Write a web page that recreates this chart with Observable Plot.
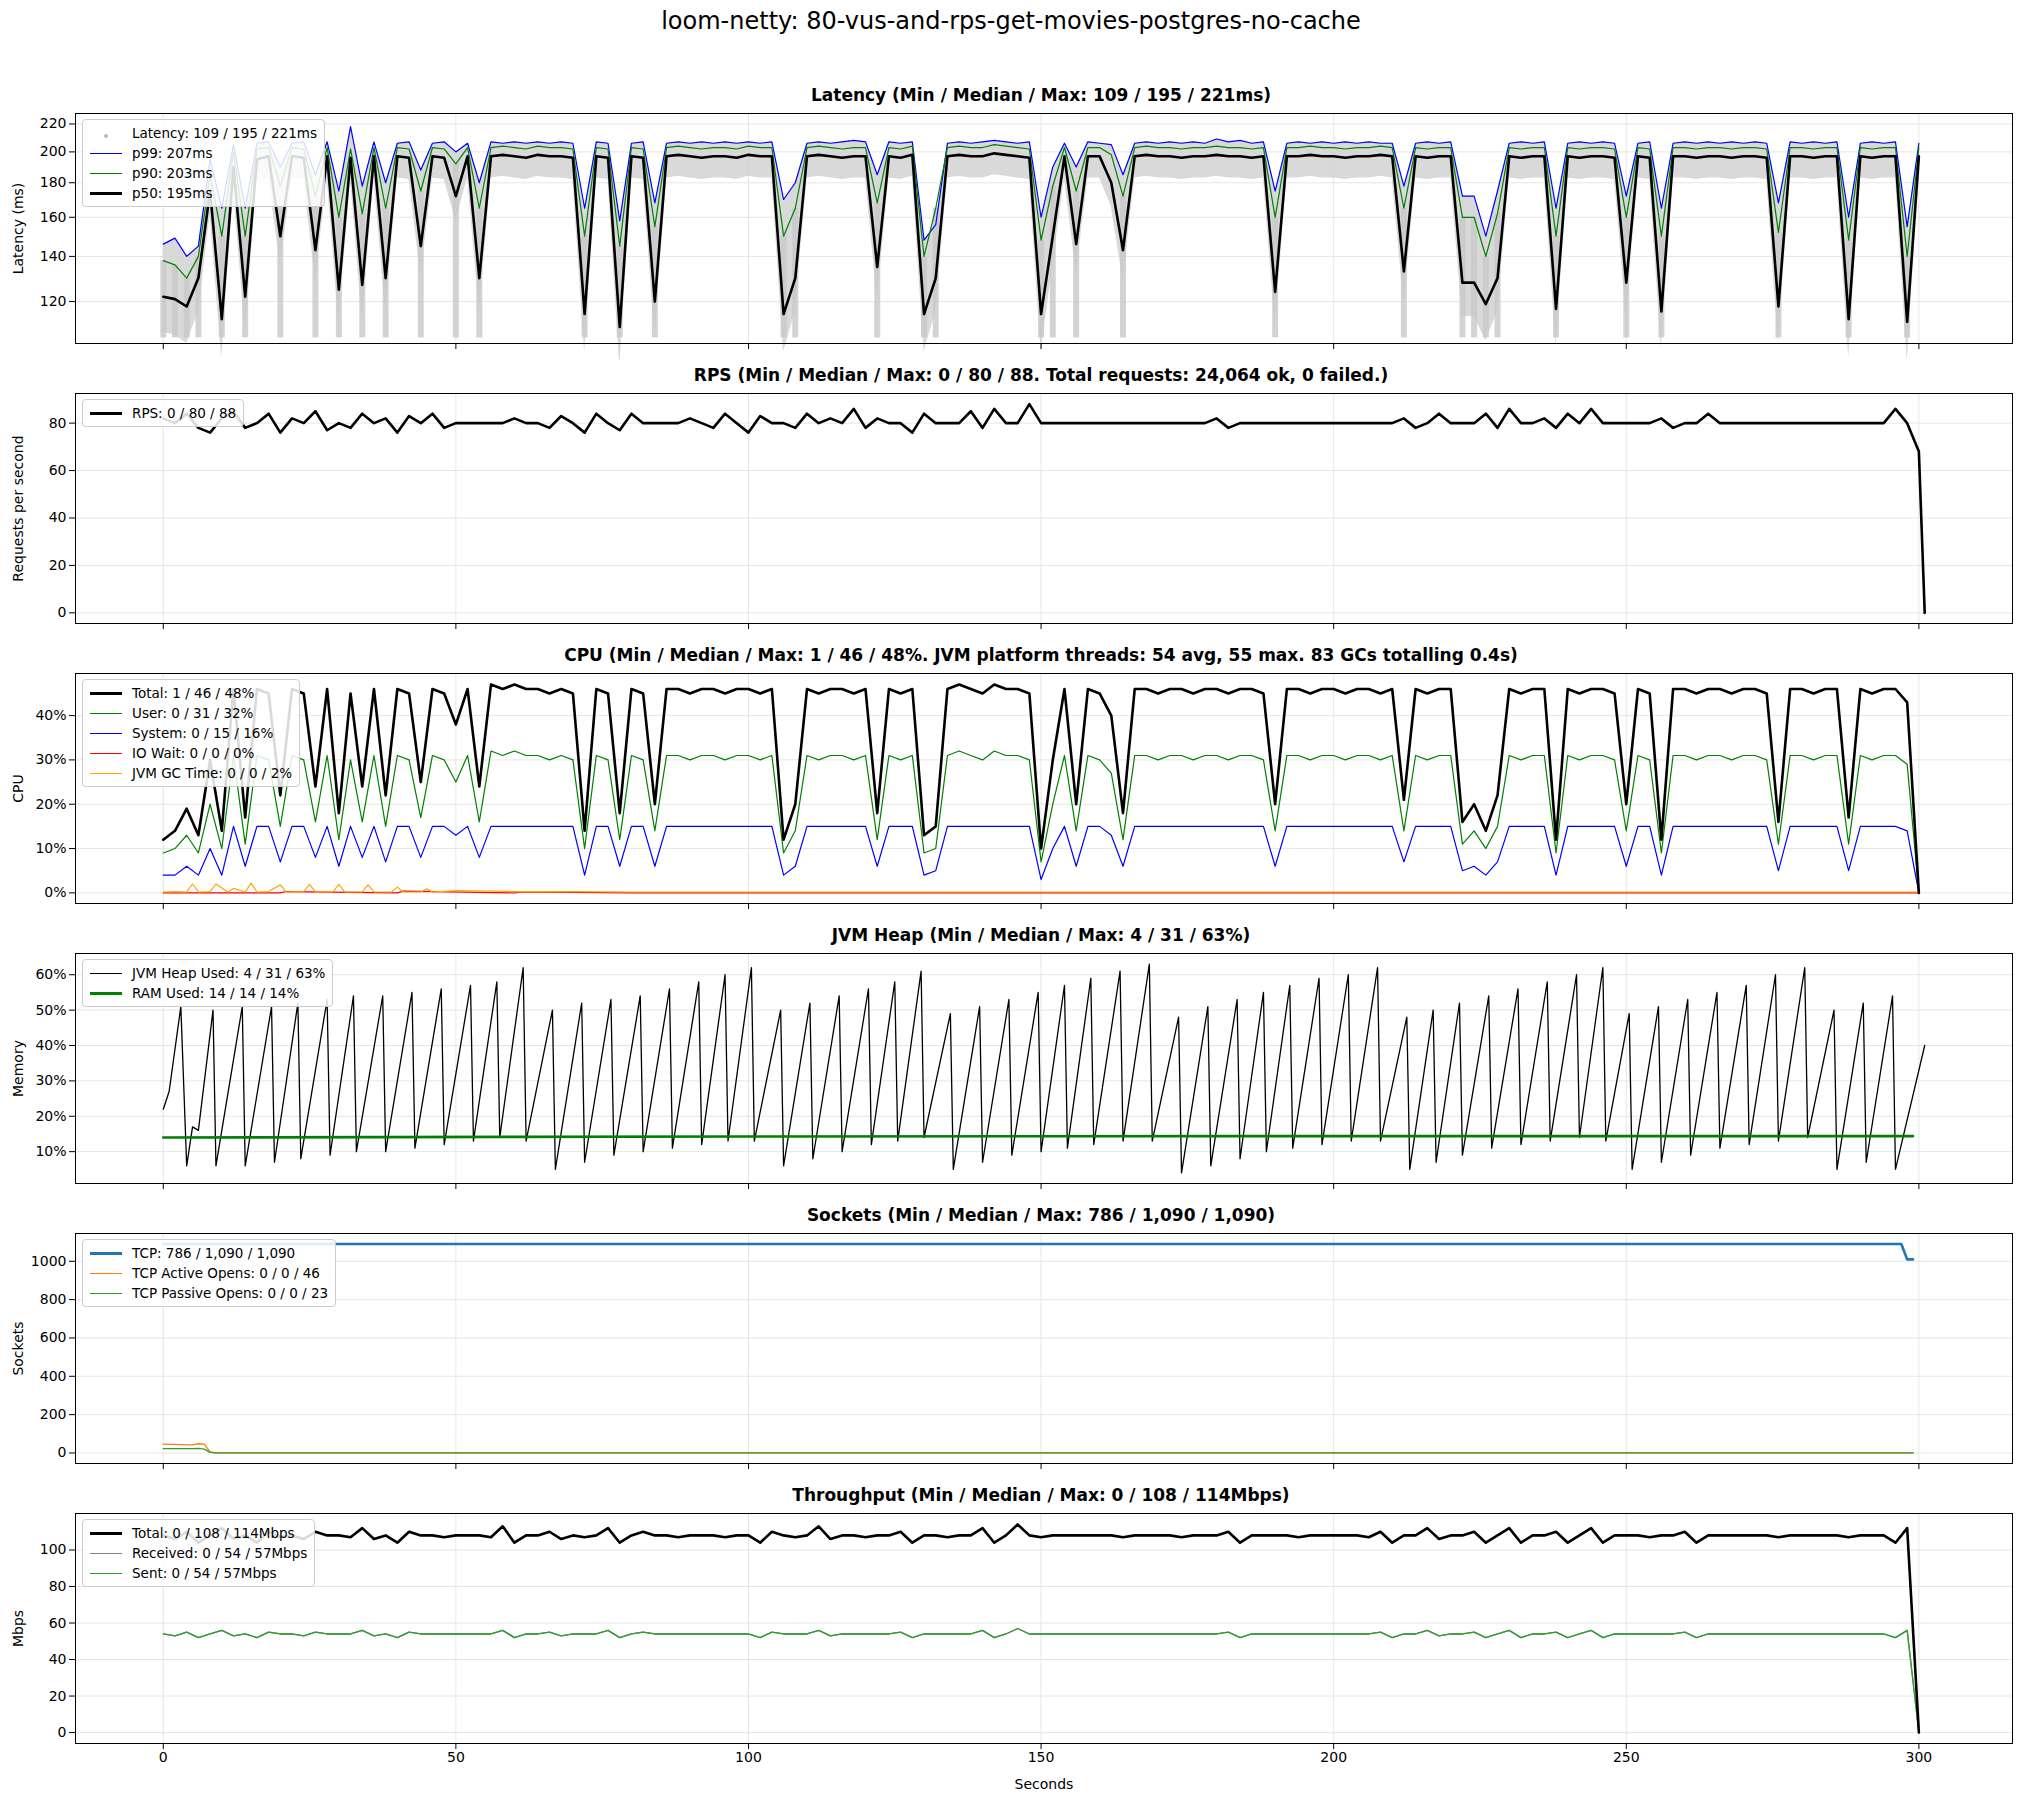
<!DOCTYPE html>
<html>
<head>
<meta charset="utf-8">
<script src="https://cdn.jsdelivr.net/npm/d3@7"></script>
<script src="https://cdn.jsdelivr.net/npm/@observablehq/plot@0.6"></script>
<style>
  body { margin: 0; background: #fff; font-family: "DejaVu Sans", sans-serif; }
  #main-title { height: 80px; line-height: 42px; text-align: center; font-size: 24px; }
  .ptitle { height: 30px; line-height: 30px; text-align: center; font-size: 17px; font-weight: bold; padding-left: 60px; }
  .pwrap { position: relative; }
  .legend { position: absolute; left: 82px; top: 9px; background: rgba(255,255,255,0.85); border: 1px solid #ccc; border-radius: 4px; padding: 3px 7px; font-size: 13.5px; }
  .legend div { display: flex; align-items: center; height: 20px; }
  .sw { display: inline-block; width: 32px; margin-right: 10px; }
</style>
</head>
<body>
<div id="main-title">loom-netty: 80-vus-and-rps-get-movies-postgres-no-cache</div>
<div id="charts"></div>
<script>
// 2-second samples, t = 0..300
const p50 = [122,121,118,130,175,113,190,122,195,197,150,197,196,143,197,125,196,127,197,130,
  197,196,145,197,196,172,197,130,197,198,197,196,198,197,197,196,115,197,196,110,
  197,196,120,197,198,197,196,197,197,196,198,197,197,115,130,197,198,197,196,197,
  197,135,197,196,198,115,130,197,198,197,197,199,198,197,196,115,150,197,146,197,
  197,180,143,197,198,197,197,196,197,197,198,197,197,196,197,124,197,197,198,197,
  197,196,197,197,198,197,133,197,196,197,197,128,128,119,130,197,196,197,197,117,
  197,196,197,197,196,128,197,196,116,197,197,196,197,197,196,197,197,196,118,197,
  197,196,197,197,113,197,196,197,197,112,197];
const p90 = [138,136,130,140,185,150,200,150,202,203,178,203,202,172,203,160,202,162,203,165,
  203,202,175,203,202,192,203,165,203,204,203,202,204,203,203,202,150,203,202,145,
  203,202,155,203,204,203,202,203,203,202,204,203,203,150,165,203,204,203,202,203,
  203,168,203,202,204,140,165,203,204,203,203,205,204,203,202,148,178,203,175,203,
  203,198,172,203,204,203,203,202,203,203,204,203,203,202,203,160,203,203,204,203,
  203,202,203,203,204,203,165,203,202,203,203,160,160,140,162,203,202,203,203,150,
  203,202,203,203,202,160,203,202,150,203,203,202,203,203,202,203,203,202,152,203,
  203,202,203,203,148,203,202,203,203,140,203];
const p99 = [146,149,140,145,195,165,205,165,206,207,190,206,207,185,207,175,218,178,207,180,
  206,207,188,206,207,200,206,180,207,206,207,206,207,206,207,206,165,207,206,158,
  206,207,168,206,207,206,207,206,207,206,207,206,207,170,180,206,207,206,207,208,
  207,185,207,206,207,148,156,206,207,206,207,208,207,206,207,160,190,206,190,207,
  206,205,185,206,207,206,207,206,207,206,209,207,208,206,207,175,206,207,206,207,
  206,207,206,207,206,206,178,206,207,206,207,172,172,150,175,206,207,206,207,165,
  206,207,206,207,206,172,206,207,165,206,207,206,207,206,207,206,207,206,168,207,
  206,207,206,207,160,206,207,206,207,155,206];

// RPS, 2-second samples plus final point at t=301
const rps = [82,80,84,78,76,82,85,78,80,84,76,82,80,85,77,80,78,84,80,82,
  76,83,80,84,78,80,80,80,80,80,82,80,80,78,83,80,76,84,80,77,
  84,80,80,80,80,82,80,78,84,80,76,83,80,80,78,84,80,82,80,86,
  78,82,80,80,76,84,80,80,80,85,78,86,80,80,88,80,80,80,80,80,
  80,80,80,80,80,80,80,80,80,80,82,78,80,80,80,80,80,80,80,80,
  80,80,80,80,80,80,82,78,80,84,80,80,80,84,78,86,80,80,82,78,
  84,80,86,80,80,80,80,80,82,78,80,80,84,80,80,80,80,80,80,80,
  80,80,80,80,80,80,80,80,86,80,68,0];

// CPU %, 2-second samples
const cpuTotal = [12,14,19,13,30,14,46,17,46,45,22,46,45,24,46,18,45,24,46,22,
  46,45,25,46,45,38,46,24,47,46,47,46,46,45,46,45,14,46,45,18,
  46,45,20,46,46,45,46,46,45,46,46,45,46,12,20,46,45,46,46,45,
  46,18,46,45,46,13,15,46,47,46,45,47,46,46,45,10,30,46,20,46,
  45,40,18,46,46,45,46,46,45,46,46,45,46,46,45,20,46,46,45,46,
  46,45,46,46,45,46,21,46,45,46,46,16,20,14,22,46,45,46,46,12,
  46,45,46,46,45,20,46,45,12,46,46,45,46,46,45,46,46,45,16,46,
  46,45,46,46,17,46,45,46,46,43,0];
const cpuUser = [9,10,13,9,20,10,31,11,31,30,15,31,30,16,31,12,30,16,31,15,
  31,30,17,31,30,25,31,16,32,31,32,31,31,30,31,30,10,31,30,12,
  31,30,14,31,31,30,31,31,30,31,31,30,31,9,14,31,30,31,31,30,
  31,12,31,30,31,9,10,31,32,31,30,32,31,31,30,7,20,31,14,31,
  30,27,12,31,31,30,31,31,30,31,31,30,31,31,30,14,31,31,30,31,
  31,30,31,31,30,31,14,31,30,31,31,11,14,10,15,31,30,31,31,9,
  31,30,31,31,30,14,31,30,9,31,31,30,31,31,30,31,31,30,11,31,
  31,30,31,31,11,31,30,31,31,29,0];
const cpuSystem = [4,4,6,4,10,4,15,6,15,15,7,15,15,8,15,6,15,8,15,7,
  15,15,8,15,15,13,15,8,15,15,15,15,15,15,15,15,4,15,15,6,
  15,15,6,15,15,15,15,15,15,15,15,15,15,4,6,15,15,15,15,15,
  15,6,15,15,15,4,5,15,15,15,15,15,15,15,15,3,10,15,6,15,
  15,13,6,15,15,15,15,15,15,15,15,15,15,15,15,6,15,15,15,15,
  15,15,15,15,15,15,7,15,15,15,15,5,6,4,7,15,15,15,15,4,
  15,15,15,15,15,6,15,15,4,15,15,15,15,15,15,15,15,15,5,15,
  15,15,15,15,5,15,15,15,15,14,0];
const gcTime = [0,2,4,5,6,8,9,11,12,14,15,16,18,20,21,24,25,26,29,30,31,34,35,36,39,40,41,44,45,46,50,60,70,80,100,150,200,250,300];
const gcPct  = [0.2,0.3,0.2,2,0.2,0.3,2,0.2,1,0.2,2.2,0.2,0.3,1.8,0.2,0.3,1.9,0.2,0.2,1.9,0.2,0.2,1.8,0.2,0.2,1.3,0.2,0.2,0.9,0.2,0.5,0.3,0.3,0.2,0.2,0.2,0.2,0.2,0.2];
const ioTime = [0,20,21,40,41,60,61,80,100,150,200,250,300];
const ioPct  = [0,0,0.3,0,0.4,0,0.2,0,0,0,0,0,0];

// JVM heap sawtooth: lead-in, then trough times with peak/trough values
const heapStartT = [0,1,3,4,5,6];
const heapStartV = [22,27,51,6,17,16];
const heapTroughT = [9,14,19,23.5,28.5,33,38,43,48,53,57.5,62,67,72,77,82,87,92,96.5,101,106,111,116,121,125.5,130,135,140,145,150,
  154.5,159,164,169,174,179,184,188.5,193,198,203,208,213,217.5,222,227,232,237,242,246.5,251,256,261,266,271,276,281,286,291,296];
const heapPeakV = [50,51,51,52,53,54,54,55,56,57,58,62,50,52,53,54,56,58,60,62,50,52,54,56,58,61,49,51,53,55,
  57,59,61,63,48,51,53,55,57,59,60,62,48,50,52,54,56,58,60,62,49,51,53,55,57,60,62,50,52,54];
const heapTroughV = [6,6,7,8,9,10,10,11,12,13,14,13,5,7,9,10,11,12,13,13,6,8,10,12,13,14,5,7,9,10,
  11,12,13,13,4,6,8,10,11,12,13,13,5,7,9,11,12,13,14,13,5,7,9,11,12,13,14,5,7,5];
const heapEndT = 301, heapEndV = 40;
const ramTime = [0,100,200,299];
const ramPct = [14,14.3,14.4,14.4];

// Sockets
const tcpTime = [0,297,298,299];
const tcpCount = [1090,1090,1010,1010];
const activeTime = [0,3,5,6,7,8,9,299];
const activeCount = [46,44,42,48,46,5,0,0];
const passiveTime = [0,5,6,7,8,9,299];
const passiveCount = [23,23,24,20,3,0,0];

// Throughput Mbps, 2-second samples
const totalMbps = [108,106,110,104,108,112,106,108,104,110,107,108,106,110,108,108,107,112,106,108,
  104,110,108,108,107,108,108,108,107,113,104,108,108,110,106,108,107,108,112,104,
  108,110,108,108,107,108,108,108,107,108,108,104,110,108,107,108,113,106,108,108,
  107,108,108,110,104,108,108,107,108,108,112,104,108,114,108,107,108,108,108,108,
  108,108,107,108,108,108,108,107,108,108,108,110,104,108,108,108,108,107,108,108,
  108,108,108,107,110,104,108,108,112,106,108,108,110,104,108,112,104,108,108,110,
  104,108,112,104,108,108,108,107,108,108,110,104,108,108,108,108,108,108,107,108,
  108,108,108,108,107,108,108,108,104,112,0];
const sentMbps = [54,53,55,52,54,56,53,54,52,55,54,54,53,55,54,54,54,56,53,54,
  52,55,54,54,54,54,54,54,54,56,52,54,54,55,53,54,54,54,56,52,
  54,55,54,54,54,54,54,54,54,54,54,52,55,54,54,54,56,53,54,54,
  54,54,54,55,52,54,54,54,54,54,56,52,54,57,54,54,54,54,54,54,
  54,54,54,54,54,54,54,54,54,54,54,55,52,54,54,54,54,54,54,54,
  54,54,54,54,55,52,54,54,56,53,54,54,55,52,54,56,52,54,54,55,
  52,54,56,52,54,54,54,54,54,54,55,52,54,54,54,54,54,54,54,54,
  54,54,54,54,54,54,54,54,52,56,0];
const receivedMbps = sentMbps; // received and sent overlap in the source chart

const xTicks = [0, 50, 100, 150, 200, 250, 300];
const t2 = i => i * 2;

const latRows = p50.map((v, i) => ({t: t2(i), p50: v, p90: p90[i], p99: p99[i]}));
const rpsRows = rps.map((v, i) => ({t: i < 151 ? t2(i) : 301, v}));
const cpuRows = cpuTotal.map((v, i) => ({t: t2(i), total: v, user: cpuUser[i], system: cpuSystem[i]}));
const heapRows = heapStartT.map((t, i) => ({t, v: heapStartV[i]}));
heapTroughT.forEach((t, i) => {
  if (heapPeakV[i] == null || heapTroughV[i] == null) return;
  heapRows.push({t: t - 0.5, v: heapPeakV[i]});
  heapRows.push({t, v: heapTroughV[i]});
});
heapRows.push({t: heapEndT, v: heapEndV});
const netRows = totalMbps.map((v, i) => ({t: t2(i), total: v, sent: sentMbps[i], recv: receivedMbps[i]}));
const pts = (ts, vs) => ts.map((t, i) => ({t, v: vs[i]}));

const container = document.getElementById("charts");

function panel({title, y, marks, legend, last}) {
  const tdiv = document.createElement("div");
  tdiv.className = "ptitle";
  tdiv.textContent = title;
  container.appendChild(tdiv);

  const wrap = document.createElement("div");
  wrap.className = "pwrap";
  const chart = Plot.plot({
    width: 2022,
    height: last ? 290 : 250,
    marginLeft: 75,
    marginRight: 10,
    marginTop: 3,
    marginBottom: last ? 57 : 17,
    style: {fontFamily: "DejaVu Sans, sans-serif", fontSize: "14px"},
    x: {domain: [-15, 316]},
    y: {type: y.type || "linear", domain: y.domain},
    marks: [
      Plot.gridX(xTicks, {stroke: "#e6e6e6", strokeOpacity: 1}),
      Plot.gridY(y.ticks, {stroke: "#e6e6e6", strokeOpacity: 1}),
      ...marks,
      Plot.frame({stroke: "#000"}),
      Plot.axisX({ticks: xTicks, tickSize: 6, tickFormat: last ? (d => d) : () => "",
        label: last ? "Seconds" : null, labelAnchor: "center", labelArrow: "none", labelOffset: 45}),
      Plot.axisY({ticks: y.ticks, tickSize: 6, tickFormat: y.format || (d => String(d)), label: y.label,
        labelAnchor: "center", labelArrow: "none", labelOffset: 62})
    ]
  });
  wrap.appendChild(chart);

  const leg = document.createElement("div");
  leg.className = "legend";
  leg.innerHTML = legend.map(l => {
    const sw = l.dot
      ? `<span class="sw" style="text-align:center"><span style="display:inline-block;width:4px;height:4px;border-radius:2px;background:${l.color}"></span></span>`
      : `<span class="sw" style="border-top:${l.w}px solid ${l.color}"></span>`;
    return `<div>${sw}<span>${l.text}</span></div>`;
  }).join("");
  wrap.appendChild(leg);
  container.appendChild(wrap);
}

panel({
  title: "Latency (Min / Median / Max: 109 / 195 / 221ms)",
  y: {type: "log", domain: [104, 228], ticks: [120, 140, 160, 180, 200, 220], label: "Latency (ms)"},
  marks: [
    Plot.areaY(latRows, {x: "t", y1: d => d.p50 - 14, y2: "p99", fill: "#cfcfcf", fillOpacity: 0.8}),
    Plot.ruleX(latRows.filter(d => d.p50 < 175), {x: "t", y1: 106, y2: "p90", stroke: "#c8c8c8", strokeWidth: 6, strokeOpacity: 0.8}),
    Plot.lineY(latRows, {x: "t", y: "p99", stroke: "blue", strokeWidth: 1.2}),
    Plot.lineY(latRows, {x: "t", y: "p90", stroke: "green", strokeWidth: 1.2}),
    Plot.lineY(latRows, {x: "t", y: "p50", stroke: "black", strokeWidth: 2.6})
  ],
  legend: [
    {dot: true, color: "#bbb", text: "Latency: 109 / 195 / 221ms"},
    {color: "blue", w: 1.5, text: "p99: 207ms"},
    {color: "green", w: 1.5, text: "p90: 203ms"},
    {color: "black", w: 3, text: "p50: 195ms"}
  ]
});

panel({
  title: "RPS (Min / Median / Max: 0 / 80 / 88. Total requests: 24,064 ok, 0 failed.)",
  y: {domain: [-4.5, 92.5], ticks: [0, 20, 40, 60, 80], label: "Requests per second"},
  marks: [Plot.lineY(rpsRows, {x: "t", y: "v", stroke: "black", strokeWidth: 2.6})],
  legend: [{color: "black", w: 3, text: "RPS: 0 / 80 / 88"}]
});

panel({
  title: "CPU (Min / Median / Max: 1 / 46 / 48%. JVM platform threads: 54 avg, 55 max. 83 GCs totalling 0.4s)",
  y: {domain: [-2.4, 49.5], ticks: [0, 10, 20, 30, 40], format: d => d + "%", label: "CPU"},
  marks: [
    Plot.lineY(pts(ioTime, ioPct), {x: "t", y: "v", stroke: "red", strokeWidth: 1.2}),
    Plot.lineY(pts(gcTime, gcPct), {x: "t", y: "v", stroke: "orange", strokeWidth: 1.2}),
    Plot.lineY(cpuRows, {x: "t", y: "system", stroke: "blue", strokeWidth: 1.2}),
    Plot.lineY(cpuRows, {x: "t", y: "user", stroke: "green", strokeWidth: 1.2}),
    Plot.lineY(cpuRows, {x: "t", y: "total", stroke: "black", strokeWidth: 2.6})
  ],
  legend: [
    {color: "black", w: 3, text: "Total: 1 / 46 / 48%"},
    {color: "green", w: 1.5, text: "User: 0 / 31 / 32%"},
    {color: "blue", w: 1.5, text: "System: 0 / 15 / 16%"},
    {color: "red", w: 1.5, text: "IO Wait: 0 / 0 / 0%"},
    {color: "orange", w: 1.5, text: "JVM GC Time: 0 / 0 / 2%"}
  ]
});

panel({
  title: "JVM Heap (Min / Median / Max: 4 / 31 / 63%)",
  y: {domain: [1, 66], ticks: [10, 20, 30, 40, 50, 60], format: d => d + "%", label: "Memory"},
  marks: [
    Plot.lineY(heapRows, {x: "t", y: "v", stroke: "black", strokeWidth: 1.3}),
    Plot.lineY(pts(ramTime, ramPct), {x: "t", y: "v", stroke: "green", strokeWidth: 2.6})
  ],
  legend: [
    {color: "black", w: 1.5, text: "JVM Heap Used: 4 / 31 / 63%"},
    {color: "green", w: 3, text: "RAM Used: 14 / 14 / 14%"}
  ]
});

panel({
  title: "Sockets (Min / Median / Max: 786 / 1,090 / 1,090)",
  y: {domain: [-55, 1145], ticks: [0, 200, 400, 600, 800, 1000], label: "Sockets"},
  marks: [
    Plot.lineY(pts(tcpTime, tcpCount), {x: "t", y: "v", stroke: "#1f77b4", strokeWidth: 2.6}),
    Plot.lineY(pts(activeTime, activeCount), {x: "t", y: "v", stroke: "#ff7f0e", strokeWidth: 1.3}),
    Plot.lineY(pts(passiveTime, passiveCount), {x: "t", y: "v", stroke: "#2ca02c", strokeWidth: 1.3})
  ],
  legend: [
    {color: "#1f77b4", w: 3, text: "TCP: 786 / 1,090 / 1,090"},
    {color: "#ff7f0e", w: 1.5, text: "TCP Active Opens: 0 / 0 / 46"},
    {color: "#2ca02c", w: 1.5, text: "TCP Passive Opens: 0 / 0 / 23"}
  ]
});

panel({
  title: "Throughput (Min / Median / Max: 0 / 108 / 114Mbps)",
  y: {domain: [-6, 120], ticks: [0, 20, 40, 60, 80, 100], label: "Mbps"},
  last: true,
  marks: [
    Plot.lineY(netRows, {x: "t", y: "recv", stroke: "gray", strokeWidth: 1.3}),
    Plot.lineY(netRows, {x: "t", y: "sent", stroke: "#2ca02c", strokeWidth: 1.3}),
    Plot.lineY(netRows, {x: "t", y: "total", stroke: "black", strokeWidth: 2.6})
  ],
  legend: [
    {color: "black", w: 3, text: "Total: 0 / 108 / 114Mbps"},
    {color: "gray", w: 1.5, text: "Received: 0 / 54 / 57Mbps"},
    {color: "#2ca02c", w: 1.5, text: "Sent: 0 / 54 / 57Mbps"}
  ]
});
</script>
</body>
</html>
